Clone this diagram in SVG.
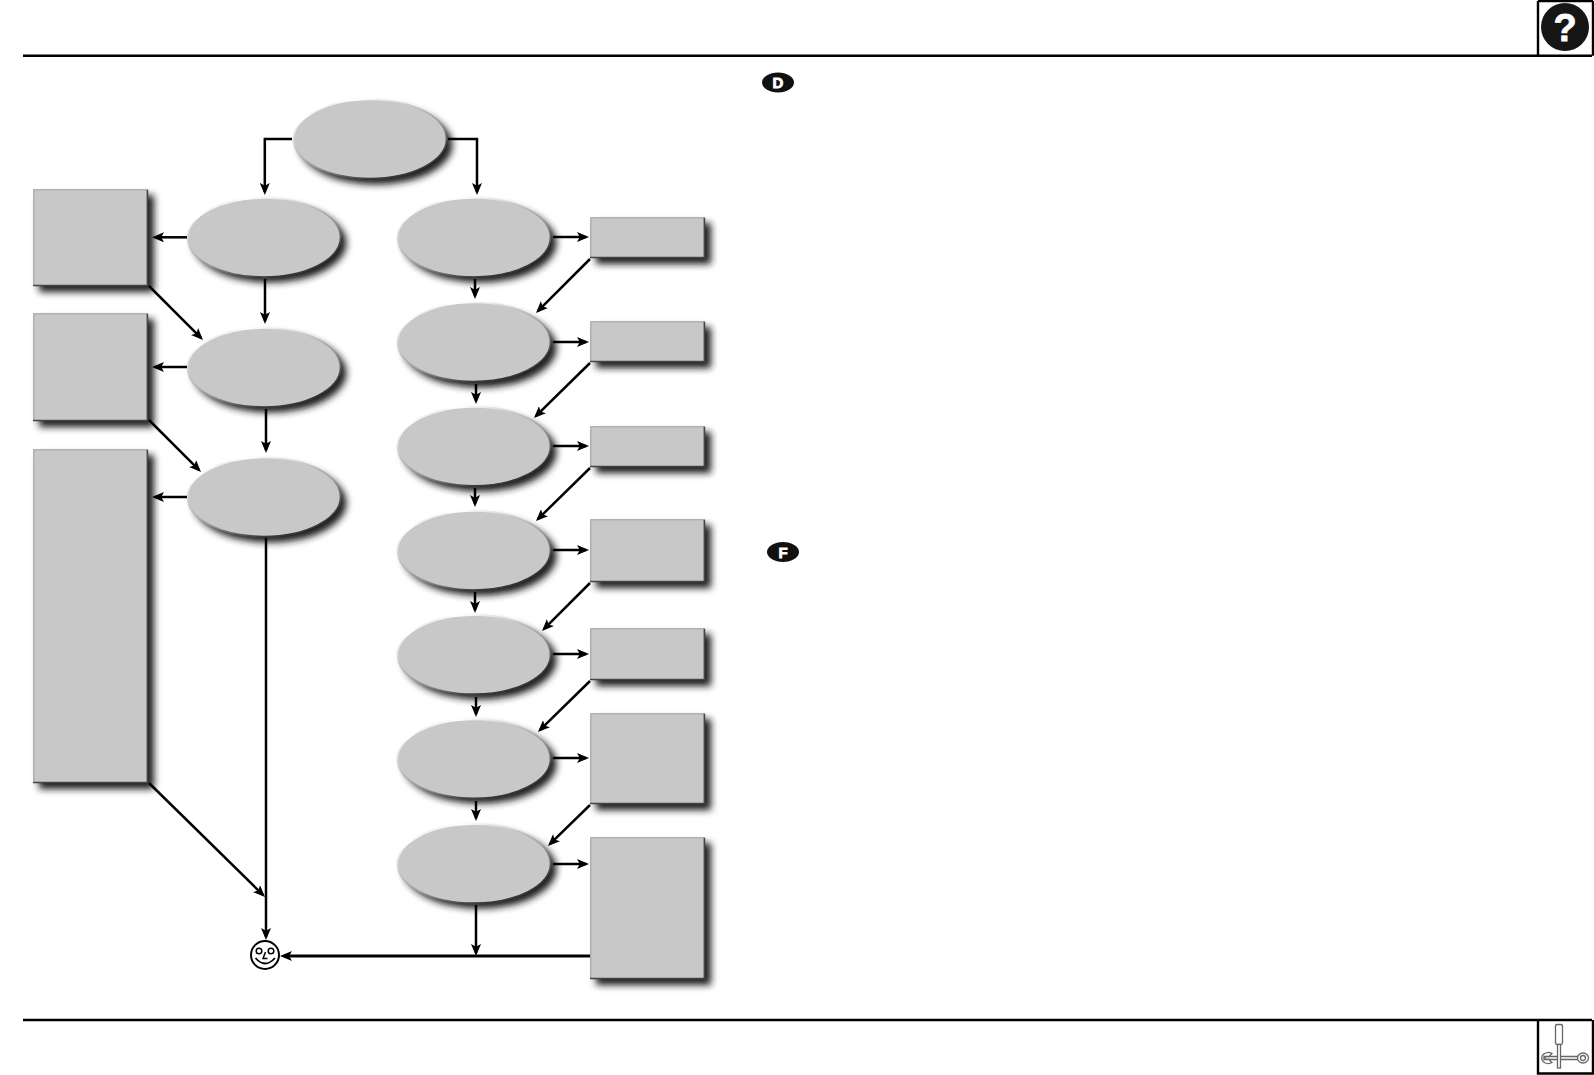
<svg xmlns="http://www.w3.org/2000/svg" width="1594" height="1075" viewBox="0 0 1594 1075">
<style>
.sh{fill:#1a1a1a;filter:url(#blur)}
.body{fill:#c8c8c8}
.edge{fill:none;stroke:url(#bevel);stroke-width:1.7}
.lt{fill:none;stroke:#b2b2b2;stroke-width:1.6}
.dk{fill:none;stroke:#444;stroke-width:1.6}
.c{fill:none;stroke:#000;stroke-width:2.5;marker-end:url(#ah)}
.rule{fill:none;stroke:#000;stroke-width:2.4}
.plain{fill:none;stroke:#000;stroke-width:3}
.badge{fill:#111}
.letter{fill:#fff;font-family:"Liberation Sans",Arial,sans-serif;font-weight:bold;text-anchor:middle}
.heavy{stroke:#fff;stroke-width:0.8}
.tool{fill:#fff;stroke:#666;stroke-width:1.3}
</style>
<defs>
<filter id="blur" x="-25%" y="-25%" width="150%" height="150%"><feOffset dx="1" dy="1"/><feGaussianBlur stdDeviation="3.6"/></filter>
<linearGradient id="bevel" x1="0.1" y1="0" x2="0.8" y2="1">
<stop offset="0" stop-color="#b0b0b0"/><stop offset="0.14" stop-color="#fff"/><stop offset="0.4" stop-color="#c0c0c0"/><stop offset="0.6" stop-color="#9a9a9a"/><stop offset="0.85" stop-color="#3c3c3c"/><stop offset="1" stop-color="#333"/>
</linearGradient>
<marker id="ah" markerUnits="userSpaceOnUse" markerWidth="12" markerHeight="10" viewBox="0 0 12 10" refX="9" refY="5" orient="auto"><path d="M12,5 L0,0 L2.8,5 L0,10 Z" fill="#000"/></marker>
<ellipse id="el" cx="0" cy="0" rx="76.5" ry="39.5"/>
</defs>

<g id="page-rules">
<path class="rule" d="M23,55.8 H1592 M1538,1 V55.8 M1593,1 V55.8 M1538,1 H1593"/>
<path class="rule" d="M23,1020 H1592 M1538,1020 V1073.5 H1593 V1020"/>
</g>

<g id="help-icon">
<circle cx="1565" cy="27" r="24" fill="#161616"/>
<text class="letter heavy" x="1565" y="41" font-size="38">?</text>
</g>

<g id="tools-icon">
<rect class="tool" x="1555.5" y="1024.5" width="7" height="20" rx="1.5"/>
<path class="tool" d="M1545,1056.5 H1578 V1059.5 H1545 Z"/>
<rect class="tool" x="1557.5" y="1044.5" width="3" height="23.5"/>
<path class="tool" d="M1552,1053.5 A6.5,5.5 0 1 0 1552,1062.5 L1549,1059.5 L1544,1059.5 L1544,1056.5 L1549,1056.5 Z"/>
<ellipse class="tool" cx="1583" cy="1058" rx="5.5" ry="5"/>
<ellipse class="tool" cx="1583" cy="1058" rx="2.5" ry="2.5"/>
</g>

<g id="badge-d"><ellipse class="badge" cx="778" cy="82.5" rx="16" ry="10"/><text class="letter heavy" x="778" y="88" font-size="15">D</text></g>
<g id="badge-f"><ellipse class="badge" cx="783" cy="552" rx="16" ry="10"/><text class="letter heavy" x="783" y="557.5" font-size="15">F</text></g>

<g id="n-top"><use href="#el" x="375" y="144" class="sh"/><use href="#el" x="370" y="139" class="body"/><use href="#el" x="370" y="139" class="edge"/></g>
<g id="n-l1"><use href="#el" x="269" y="242" class="sh"/><use href="#el" x="264" y="237.5" class="body"/><use href="#el" x="264" y="237.5" class="edge"/></g>
<g id="n-l2"><use href="#el" x="269" y="372" class="sh"/><use href="#el" x="264" y="367.5" class="body"/><use href="#el" x="264" y="367.5" class="edge"/></g>
<g id="n-l3"><use href="#el" x="269" y="502" class="sh"/><use href="#el" x="264" y="497" class="body"/><use href="#el" x="264" y="497" class="edge"/></g>
<g id="n-r1"><use href="#el" x="479" y="242" class="sh"/><use href="#el" x="474" y="237.5" class="body"/><use href="#el" x="474" y="237.5" class="edge"/></g>
<g id="n-r2"><use href="#el" x="479" y="347" class="sh"/><use href="#el" x="474" y="342" class="body"/><use href="#el" x="474" y="342" class="edge"/></g>
<g id="n-r3"><use href="#el" x="479" y="451" class="sh"/><use href="#el" x="474" y="446.3" class="body"/><use href="#el" x="474" y="446.3" class="edge"/></g>
<g id="n-r4"><use href="#el" x="479" y="555" class="sh"/><use href="#el" x="474" y="550.5" class="body"/><use href="#el" x="474" y="550.5" class="edge"/></g>
<g id="n-r5"><use href="#el" x="479" y="659" class="sh"/><use href="#el" x="474" y="654.7" class="body"/><use href="#el" x="474" y="654.7" class="edge"/></g>
<g id="n-r6"><use href="#el" x="479" y="763" class="sh"/><use href="#el" x="474" y="758.8" class="body"/><use href="#el" x="474" y="758.8" class="edge"/></g>
<g id="n-r7"><use href="#el" x="479" y="868" class="sh"/><use href="#el" x="474" y="863.7" class="body"/><use href="#el" x="474" y="863.7" class="edge"/></g>

<g id="b-l1"><rect class="sh" x="38" y="194" width="115" height="97"/><rect class="body" x="33" y="189" width="115" height="97"/><path class="lt" d="M33.8,285.5 V189.8 H147.2"/><path class="dk" d="M33,285.5 H147.4 V189.8"/></g>
<g id="b-l2"><rect class="sh" x="38" y="318" width="115" height="108"/><rect class="body" x="33" y="313" width="115" height="108"/><path class="lt" d="M33.8,420.5 V313.8 H147.2"/><path class="dk" d="M33,420.5 H147.4 V313.8"/></g>
<g id="b-l3"><rect class="sh" x="38" y="454" width="115" height="334"/><rect class="body" x="33" y="449" width="115" height="334"/><path class="lt" d="M33.8,782.5 V449.8 H147.2"/><path class="dk" d="M33,782.5 H147.4 V449.8"/></g>
<g id="b-r1"><rect class="sh" x="595" y="222" width="115" height="41"/><rect class="body" x="590" y="217" width="115" height="41"/><path class="lt" d="M590.8,257.5 V217.8 H704.2"/><path class="dk" d="M590,257.5 H704.4 V217.8"/></g>
<g id="b-r2"><rect class="sh" x="595" y="326" width="115" height="41"/><rect class="body" x="590" y="321" width="115" height="41"/><path class="lt" d="M590.8,361.5 V321.8 H704.2"/><path class="dk" d="M590,361.5 H704.4 V321.8"/></g>
<g id="b-r3"><rect class="sh" x="595" y="431" width="115" height="41"/><rect class="body" x="590" y="426" width="115" height="41"/><path class="lt" d="M590.8,466.5 V426.8 H704.2"/><path class="dk" d="M590,466.5 H704.4 V426.8"/></g>
<g id="b-r4"><rect class="sh" x="595" y="524" width="115" height="63"/><rect class="body" x="590" y="519" width="115" height="63"/><path class="lt" d="M590.8,581.5 V519.8 H704.2"/><path class="dk" d="M590,581.5 H704.4 V519.8"/></g>
<g id="b-r5"><rect class="sh" x="595" y="633" width="115" height="52"/><rect class="body" x="590" y="628" width="115" height="52"/><path class="lt" d="M590.8,679.5 V628.8 H704.2"/><path class="dk" d="M590,679.5 H704.4 V628.8"/></g>
<g id="b-r6"><rect class="sh" x="595" y="718" width="115" height="91"/><rect class="body" x="590" y="713" width="115" height="91"/><path class="lt" d="M590.8,803.5 V713.8 H704.2"/><path class="dk" d="M590,803.5 H704.4 V713.8"/></g>
<g id="b-r7"><rect class="sh" x="595" y="842" width="115" height="142"/><rect class="body" x="590" y="837" width="115" height="142"/><path class="lt" d="M590.8,978.5 V837.8 H704.2"/><path class="dk" d="M590,978.5 H704.4 V837.8"/></g>

<g id="n-end" fill="none" stroke="#000">
<circle cx="265" cy="955" r="14" fill="#fff" stroke-width="2"/>
<circle cx="259" cy="951" r="2.8" stroke-width="1.5"/>
<circle cx="271" cy="951" r="2.8" stroke-width="1.5"/>
<path d="M265.5,952 L263,958.5 H267.5" stroke-width="1.5"/>
<path d="M255.5,958 Q265,969 275,958" stroke-width="1.8"/>
</g>

<g id="connectors">
<path class="c" d="M292,139 H264.8 V192"/>
<path class="c" d="M448,139 H477 V192"/>
<path class="c" d="M187,237.3 H155"/>
<path class="c" d="M187,367 H155"/>
<path class="c" d="M187,497 H155"/>
<path class="c" d="M265,279 V321"/>
<path class="c" d="M266,409 V450"/>
<path class="c" d="M266,538 V937"/>
<path class="c" d="M149,286 L200.900,337.900"/>
<path class="c" d="M149,420 L198.900,469.900"/>
<path class="c" d="M149,783 L262.900,894.900"/>
<path class="c" d="M475,279 V296"/>
<path class="c" d="M476,384 V401"/>
<path class="c" d="M475,488 V504"/>
<path class="c" d="M475,592 V610"/>
<path class="c" d="M476,697 V714"/>
<path class="c" d="M476,801 V818"/>
<path class="c" d="M476,905 V953"/>
<path class="c" d="M553,237 H586"/>
<path class="c" d="M553,342 H586"/>
<path class="c" d="M553,446 H586"/>
<path class="c" d="M553,550 H586"/>
<path class="c" d="M553,654 H586"/>
<path class="c" d="M553,758 H586"/>
<path class="c" d="M553,864 H586"/>
<path class="c" d="M590,259 L538.100,310.900"/>
<path class="c" d="M590,363 L536.100,415.900"/>
<path class="c" d="M590,468 L538.100,518.900"/>
<path class="c" d="M590,583 L544.100,628.900"/>
<path class="c" d="M590,681 L540.100,729.900"/>
<path class="c" d="M590,805 L550.100,843.900"/>
<path class="plain" d="M590,956 H284" />
<path d="M280,956 L292,951 L289.200,956 L292,961 Z" fill="#000"/>
</g>
</svg>
